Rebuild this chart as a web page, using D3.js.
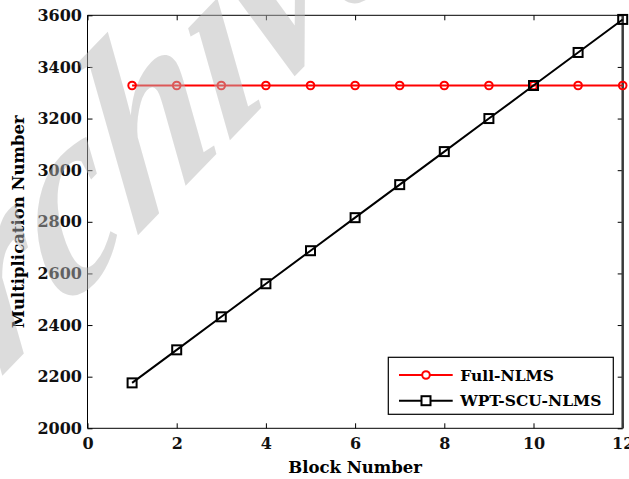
<!DOCTYPE html>
<html>
<head>
<meta charset="utf-8">
<script src="https://cdn.jsdelivr.net/npm/d3@7"></script>
<style>
  body { margin: 0; background: #fff; }
  text { font-family: "DejaVu Serif", serif; font-weight: bold; }
  .axis path { display: none; }
  .axis line { stroke: #000; stroke-width: 1; }
  .axis text { font-size: 16px; fill: #111; }
</style>
</head>
<body>
<script>
// chart values
var blocks = [1, 2, 3, 4, 5, 6, 7, 8, 9, 10, 11, 12];
var fullNlms = [3328, 3328, 3328, 3328, 3328, 3328, 3328, 3328, 3328, 3328, 3328, 3328];
var wptScuNlms = [2176, 2304, 2432, 2560, 2688, 2816, 2944, 3072, 3200, 3328, 3456, 3584];
var xTicks = [0, 2, 4, 6, 8, 10, 12];
var yTicks = [2000, 2200, 2400, 2600, 2800, 3000, 3200, 3400, 3600];
var seriesNames = ["Full-NLMS", "WPT-SCU-NLMS"];

var W = 629, H = 479;
var margin = {top: 15.3, right: 6.3, bottom: 50.7, left: 87.5},
    width = W - margin.left - margin.right,
    height = H - margin.top - margin.bottom;

var svg = d3.select("body").append("svg")
    .attr("width", W)
    .attr("height", H);

var g = svg.append("g")
    .attr("transform", "translate(" + margin.left + "," + margin.top + ")");

var x = d3.scaleLinear().domain([0, 12]).range([0, width]);
var y = d3.scaleLinear().domain([2000, 3600]).range([height, 0]);

// axes, ticks pointing inward
g.append("g").attr("class", "axis")
  .attr("transform", "translate(0," + height + ")")
  .call(d3.axisBottom(x).tickValues(xTicks).tickSizeInner(-5).tickSizeOuter(0).tickPadding(9.5));
g.append("g").attr("class", "axis")
  .call(d3.axisTop(x).tickValues(xTicks).tickSizeInner(-5).tickSizeOuter(0).tickFormat(""));
g.append("g").attr("class", "axis")
  .call(d3.axisLeft(y).tickValues(yTicks).tickFormat(d3.format("d"))
    .tickSizeInner(-5).tickSizeOuter(0).tickPadding(5.5));
g.append("g").attr("class", "axis")
  .attr("transform", "translate(" + width + ",0)")
  .call(d3.axisRight(y).tickValues(yTicks).tickSizeInner(-5).tickSizeOuter(0).tickFormat(""));

// box
g.append("line").attr("x1", 0).attr("x2", 0).attr("y1", 0).attr("y2", height).style("stroke", "#000");
g.append("line").attr("x1", 0).attr("x2", width).attr("y1", height).attr("y2", height).style("stroke", "#000");
g.append("line").attr("x1", 0).attr("x2", width).attr("y1", 0).attr("y2", 0).style("stroke", "#000");
g.append("line").attr("x1", width).attr("x2", width).attr("y1", 0).attr("y2", height)
  .style("stroke", "#3a3a3a").style("stroke-width", 2.5);

var line = d3.line()
  .x(function(d) { return x(d.x); })
  .y(function(d) { return y(d.y); });

var fullData = blocks.map(function(b, i) { return {x: b, y: fullNlms[i]}; });
var wptData = blocks.map(function(b, i) { return {x: b, y: wptScuNlms[i]}; });

// red series
g.append("path").datum(fullData)
  .attr("d", line)
  .style("fill", "none").style("stroke", "#ff0000").style("stroke-width", 2);
g.selectAll(".circ").data(fullData).enter().append("circle")
  .attr("class", "circ")
  .attr("cx", function(d) { return x(d.x); })
  .attr("cy", function(d) { return y(d.y); })
  .attr("r", 3.8)
  .style("fill", "none").style("stroke", "#ff0000").style("stroke-width", 2);

// black series
g.append("path").datum(wptData)
  .attr("d", line)
  .style("fill", "none").style("stroke", "#000").style("stroke-width", 2);
g.selectAll(".sq").data(wptData).enter().append("rect")
  .attr("class", "sq")
  .attr("x", function(d) { return x(d.x) - 4.5; })
  .attr("y", function(d) { return y(d.y) - 4.5; })
  .attr("width", 9).attr("height", 9)
  .style("fill", "none").style("stroke", "#000").style("stroke-width", 2);

// axis titles
svg.append("text")
  .attr("x", margin.left + width / 2)
  .attr("y", 473)
  .attr("text-anchor", "middle")
  .style("font-size", "16.5px")
  .text("Block Number");
svg.append("text")
  .attr("transform", "translate(23.5," + (margin.top + height / 2) + ") rotate(-90)")
  .attr("text-anchor", "middle")
  .style("font-size", "16.5px")
  .text("Multiplication Number");

// legend
var legend = svg.append("g").attr("transform", "translate(388.3,357.3)");
legend.append("rect")
  .attr("width", 225).attr("height", 57)
  .style("fill", "#fff").style("stroke", "#000").style("stroke-width", 1.2);
var rows = [17.7, 43.4];
var colors = ["#ff0000", "#000"];
seriesNames.forEach(function(name, i) {
  var row = legend.append("g").attr("transform", "translate(0," + rows[i] + ")");
  row.append("line").attr("x1", 10.7).attr("x2", 64.4)
    .style("stroke", colors[i]).style("stroke-width", 2);
  if (i == 0) {
    row.append("circle").attr("cx", 37.7).attr("r", 3.8)
      .style("fill", "#fff").style("stroke", colors[i]).style("stroke-width", 2);
  } else {
    row.append("rect").attr("x", 33.2).attr("y", -4.5).attr("width", 9).attr("height", 9)
      .style("fill", "#fff").style("stroke", colors[i]).style("stroke-width", 2);
  }
  row.append("text").attr("x", 72).attr("dy", "0.36em")
    .style("font-size", "15.5px")
    .text(name);
});

// watermark on top, semi transparent
svg.append("text")
  .attr("transform", "translate(-110,492) rotate(-46) skewX(-22)")
  .style("font-family", "'Liberation Serif', serif")
  .style("font-size", "235px")
  .style("font-style", "italic")
  .style("fill", "rgb(184,184,184)")
  .style("opacity", 0.48)
  .text("Archive");
</script>
</body>
</html>
